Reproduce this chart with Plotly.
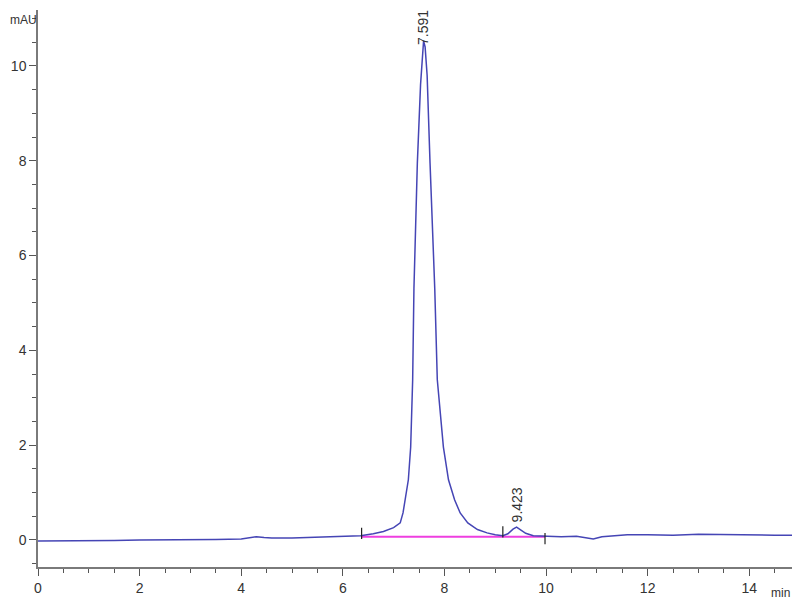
import plotly.graph_objects as go

# Chromatogram trace (retention time in min, absorbance in mAU)
time_min = [0, 0.5, 1.0, 1.5, 2.0, 2.5, 3.0, 3.5, 4.0, 4.2, 4.3, 4.45, 4.6, 5.0, 5.5, 6.0,
            6.35, 6.6, 6.8, 7.0, 7.13, 7.185, 7.24, 7.29, 7.336, 7.375, 7.40, 7.467, 7.53,
            7.57, 7.59, 7.62, 7.66, 7.717, 7.81, 7.86, 7.98, 8.08, 8.2, 8.31, 8.46, 8.65,
            8.84, 9.0, 9.15, 9.25, 9.35, 9.42, 9.5, 9.6, 9.75, 10.0, 10.3, 10.6, 10.8,
            10.93, 11.1, 11.3, 11.6, 12.0, 12.5, 13.0, 13.5, 14.0, 14.5, 14.96]
signal_mau = [-0.02, -0.02, -0.01, -0.01, 0.0, 0.0, 0.01, 0.01, 0.02, 0.05, 0.07, 0.05, 0.04,
              0.04, 0.06, 0.08, 0.09, 0.13, 0.18, 0.26, 0.36, 0.57, 0.9, 1.27, 1.96, 3.38, 5.3,
              7.95, 9.6, 10.4, 10.53, 10.4, 9.8, 7.95, 5.3, 3.38, 1.96, 1.27, 0.85, 0.57, 0.36,
              0.22, 0.15, 0.11, 0.09, 0.13, 0.23, 0.27, 0.22, 0.14, 0.09, 0.08, 0.07, 0.08,
              0.05, 0.02, 0.07, 0.09, 0.11, 0.11, 0.10, 0.12, 0.11, 0.10, 0.10, 0.10]

# Integration baseline
baseline_t = [6.37, 9.98]
baseline_v = [0.07, 0.07]

# Integration event marks
event_t = [6.37, 9.15, 9.98]
event_v = [0.14, 0.17, 0.03]

# Peak labels
peak_t = [7.591, 9.423]
peak_v = [10.53, 0.27]
peak_labels = ["7.591", "9.423"]
label_shift = [-6, 3]

fig = go.Figure()
fig.add_trace(go.Scatter(x=baseline_t, y=baseline_v, mode="lines",
                         line=dict(color="#ee3fe0", width=2), hoverinfo="skip"))
fig.add_trace(go.Scatter(x=time_min, y=signal_mau, mode="lines",
                         line=dict(color="#4545b5", width=1.5)))
fig.add_trace(go.Scatter(x=event_t, y=event_v, mode="markers",
                         marker=dict(symbol="line-ns", size=8,
                                     line=dict(color="#222222", width=1.2))))

for t, v, lab, sh in zip(peak_t, peak_v, peak_labels, label_shift):
    fig.add_annotation(x=t, y=v, text=lab, textangle=-90, showarrow=False,
                       xanchor="center", yanchor="bottom", yshift=sh,
                       font=dict(family="Liberation Sans, Arial", size=14, color="#333333"))

fig.add_annotation(xref="paper", yref="paper", x=-0.0395, y=0.982, text="mAU",
                   showarrow=False, xanchor="left", yanchor="middle",
                   font=dict(family="Liberation Sans, Arial", size=12, color="#333333"))
fig.add_annotation(xref="paper", yref="paper", x=0.992, y=-0.03, text="min",
                   showarrow=False, xanchor="right", yanchor="top",
                   font=dict(family="Liberation Sans, Arial", size=12, color="#333333"))

axis_common = dict(showgrid=False, zeroline=False, showline=True, linecolor="#7a7a7a",
                   linewidth=1.5, ticks="outside", tickcolor="#555555", ticklen=7,
                   tickwidth=1.2, automargin=False,
                   tickfont=dict(family="Liberation Sans, Arial", size=14, color="#333333"))

# The page body adds an 8px offset, so the figure is sized 792x592.
fig.update_layout(
    width=792, height=592,
    margin=dict(l=30, r=2, t=2, b=33, autoexpand=False),
    paper_bgcolor="white", plot_bgcolor="white",
    showlegend=False,
    xaxis=dict(range=[0, 14.96], tickmode="linear", tick0=0, dtick=2,
               minor=dict(dtick=0.5, ticks="outside", ticklen=4, tickcolor="#555555"),
               **axis_common),
    yaxis=dict(range=[-0.57, 11.18], tickmode="linear", tick0=0, dtick=2,
               minor=dict(dtick=0.5, ticks="outside", ticklen=4, tickcolor="#555555"),
               **axis_common),
)

fig.write_html("out.html")
